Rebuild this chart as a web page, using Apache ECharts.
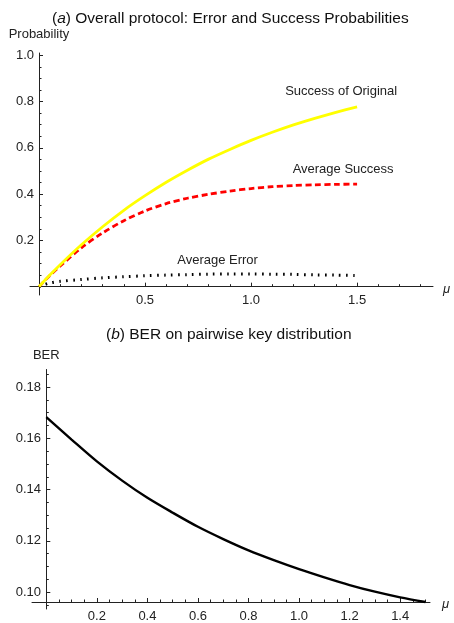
<!DOCTYPE html>
<html>
<head>
<meta charset="utf-8">
<script src="https://cdn.jsdelivr.net/npm/echarts@6/dist/echarts.min.js"></script>
<style>html,body{margin:0;padding:0;background:#fff;}#c{width:454px;height:623px;}</style>
</head>
<body>
<div id="c"></div>
<script>
// Chart (a) data
var muA = [0, 0.05, 0.1, 0.2, 0.3, 0.4, 0.5, 0.6, 0.7, 0.8, 0.9, 1.0, 1.1, 1.2, 1.3, 1.4, 1.5];
var successOriginal = [0, 0.049, 0.095, 0.181, 0.259, 0.33, 0.393, 0.451, 0.503, 0.551, 0.593, 0.632, 0.667, 0.699, 0.727, 0.753, 0.777];
var averageSuccess = [0, 0.047, 0.089, 0.168, 0.232, 0.285, 0.327, 0.359, 0.382, 0.399, 0.413, 0.424, 0.432, 0.437, 0.440, 0.442, 0.443];
var averageError = [0, 0.016, 0.023, 0.031, 0.038, 0.043, 0.047, 0.050, 0.052, 0.054, 0.055, 0.055, 0.054, 0.053, 0.051, 0.050, 0.048];
var xTicksA = [0.5, 1.0, 1.5];
var yTicksA = [0.2, 0.4, 0.6, 0.8, 1.0];
// Chart (b) data
var muB = [0, 0.1, 0.2, 0.3, 0.4, 0.5, 0.6, 0.7, 0.8, 0.9, 1.0, 1.1, 1.2, 1.3, 1.4, 1.5];
var ber = [0.1682, 0.1595, 0.151, 0.1435, 0.1368, 0.131, 0.1255, 0.1207, 0.1163, 0.1125, 0.109, 0.1058, 0.1028, 0.1002, 0.098, 0.0962];
var xTicksB = [0.2, 0.4, 0.6, 0.8, 1.0, 1.2, 1.4];
var yTicksB = [0.10, 0.12, 0.14, 0.16, 0.18];

function range(a, b, step) {
  var out = [];
  for (var i = 0; a + i * step <= b + 1e-9; i++) out.push(+(a + i * step).toFixed(4));
  return out;
}
function minors(a, b, step, majors) {
  return range(a, b, step).filter(function (v) {
    return !majors.some(function (m) { return Math.abs(m - v) < 1e-6; });
  });
}
function pairs(xs, ys) { return xs.map(function (x, i) { return [x, ys[i]]; }); }

var FONT = 'Liberation Sans, Arial, sans-serif';
var AX = '#222';
var labelStyle = { color: AX, fontSize: 13, fontFamily: FONT };

function mainAxis(dim, grid, min, max, ticks, digits, margin, extra) {
  var o = {
    type: 'value', gridIndex: grid, min: min, max: max,
    position: dim === 'x' ? 'bottom' : 'left',
    axisLine: { show: true, onZero: true, lineStyle: { color: AX, width: 1 } },
    axisTick: { show: true, inside: true, length: 4, customValues: ticks, lineStyle: { color: AX } },
    axisLabel: Object.assign({ show: true, margin: margin, customValues: ticks,
      formatter: function (v) { return (+v).toFixed(digits); } }, labelStyle),
    splitLine: { show: false }
  };
  return Object.assign(o, extra || {});
}
function minorAxis(dim, grid, min, max, ticks, extra) {
  return Object.assign({
    type: 'value', gridIndex: grid, min: min, max: max,
    position: dim === 'x' ? 'bottom' : 'left',
    axisLine: { show: false, onZero: true },
    axisTick: { show: true, inside: true, length: 2.5, customValues: ticks, lineStyle: { color: AX } },
    axisLabel: { show: false },
    splitLine: { show: false }
  }, extra || {});
}

var xMinA = -0.0425, xMaxA = 1.858, yMinA = -0.036, yMaxA = 1.0095;
var xMinB = -0.0566, xMaxB = 1.518, yMinB = 0.09346, yMaxB = 0.1868;

var titleStyle = { fontSize: 15.5, fontWeight: 'normal', color: '#111', fontFamily: FONT,
  rich: { i: { fontStyle: 'italic', fontSize: 15.5, color: '#111', fontFamily: FONT } } };
var muStyle = { fontSize: 13, fontStyle: 'italic', color: AX, fontFamily: FONT, verticalAlign: 'top', lineHeight: 6 };

var chart = echarts.init(document.getElementById('c'), null, { renderer: 'canvas' });
var option = {
  animation: false,
  backgroundColor: '#fff',
  title: [
    { text: '({i|a}) Overall protocol: Error and Success Probabilities', left: 52, top: 10.5, padding: 0, textStyle: titleStyle },
    { text: '({i|b}) BER on pairwise key distribution', left: 106, top: 326.5, padding: 0, textStyle: titleStyle }
  ],
  grid: [
    { left: 30, right: 21, top: 53, bottom: 328 },
    { left: 32, right: 24, top: 369.5, bottom: 10.5 }
  ],
  xAxis: [
    mainAxis('x', 0, xMinA, xMaxA, xTicksA, 1, -1, { name: 'μ', nameLocation: 'end', nameGap: 10,
      nameTextStyle: muStyle }),
    minorAxis('x', 0, xMinA, xMaxA, minors(0.1, 1.8, 0.1, xTicksA)),
    mainAxis('x', 1, xMinB, xMaxB, xTicksB, 1, 8, { offset: -7, name: 'μ', nameLocation: 'end', nameGap: 12,
      nameTextStyle: Object.assign({}, muStyle, { lineHeight: 4 }) }),
    minorAxis('x', 1, xMinB, xMaxB, minors(0.05, 1.5, 0.05, xTicksB), { offset: -7 })
  ],
  yAxis: [
    mainAxis('y', 0, yMinA, yMaxA, yTicksA, 1, -4, { name: 'Probability', nameLocation: 'end', nameGap: 12,
      nameTextStyle: { fontSize: 13, color: AX, fontFamily: FONT } }),
    minorAxis('y', 0, yMinA, yMaxA, minors(0.05, 1.0, 0.05, yTicksA)),
    mainAxis('y', 1, yMinB, yMaxB, yTicksB, 2, -9, { name: 'BER', nameLocation: 'end', nameGap: 8,
      nameTextStyle: { fontSize: 13, color: AX, fontFamily: FONT } }),
    minorAxis('y', 1, yMinB, yMaxB, minors(0.095, 0.185, 0.005, yTicksB))
  ],
  series: [
    { type: 'line', xAxisIndex: 0, yAxisIndex: 0, data: pairs(muA, averageSuccess), showSymbol: false, z: 2,
      smooth: 0.3, lineStyle: { color: '#ff0000', width: 2.8, type: [6, 3.5] },
      markPoint: { symbol: 'circle', symbolSize: 0, silent: true,
        label: { show: true, position: 'inside', formatter: 'Average Success', color: AX, fontSize: 13, fontFamily: FONT },
        data: [{ coord: [1.434, 0.508] }] } },
    { type: 'line', xAxisIndex: 0, yAxisIndex: 0, data: pairs(muA, successOriginal), showSymbol: false, z: 3,
      smooth: 0.3, lineStyle: { color: '#ffff00', width: 2.8 },
      markPoint: { symbol: 'circle', symbolSize: 0, silent: true,
        label: { show: true, position: 'inside', formatter: 'Success of Original', color: AX, fontSize: 13, fontFamily: FONT },
        data: [{ coord: [1.425, 0.845] }] } },
    { type: 'line', xAxisIndex: 0, yAxisIndex: 0, data: pairs(muA, averageError), showSymbol: false, z: 2,
      smooth: 0.3, lineStyle: { color: '#000', width: 3, type: [1.6, 5.4], cap: 'butt' },
      markPoint: { symbol: 'circle', symbolSize: 0, silent: true,
        label: { show: true, position: 'inside', formatter: 'Average Error', color: AX, fontSize: 13, fontFamily: FONT },
        data: [{ coord: [0.842, 0.115] }] } },
    { type: 'line', xAxisIndex: 2, yAxisIndex: 2, data: pairs(muB, ber), showSymbol: false,
      smooth: 0.3, lineStyle: { color: '#000', width: 2.4 } }
  ]
};
chart.setOption(option);
</script>
</body>
</html>
